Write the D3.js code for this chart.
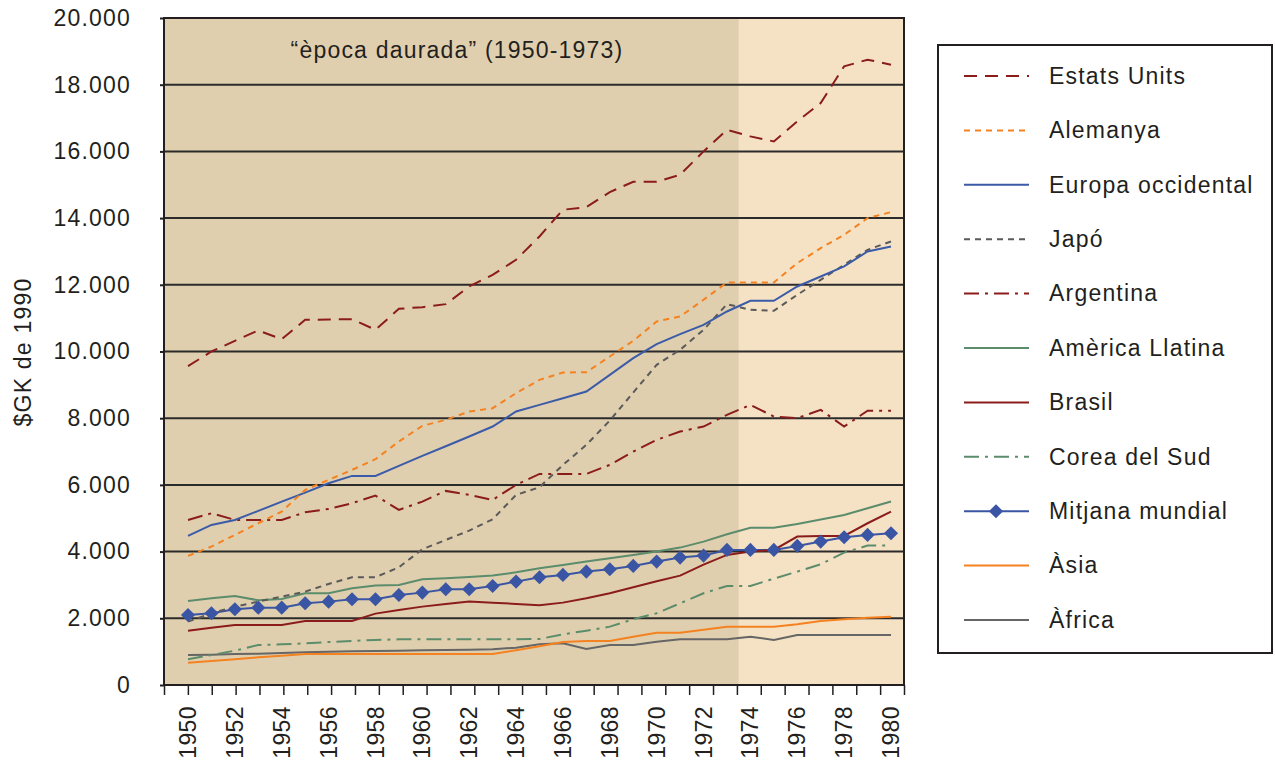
<!DOCTYPE html>
<html lang="ca">
<head>
<meta charset="utf-8">
<script src="https://d3js.org/d3.v7.min.js"></script>
<style>
body { margin: 0; background: #fff; }
svg text {
	font-family: "Liberation Sans", Arial, sans-serif;
	font-size: 23px;
	fill: #231f20;
	letter-spacing: 1.2px;
}
svg text.year { letter-spacing: 0.4px; }
</style>
</head>
<body>
<script>

// years on the category axis
const years = [1950, 1951, 1952, 1953, 1954, 1955, 1956, 1957, 1958, 1959,
               1960, 1961, 1962, 1963, 1964, 1965, 1966, 1967, 1968, 1969,
               1970, 1971, 1972, 1973, 1974, 1975, 1976, 1977, 1978, 1979, 1980];

// GDP per capita, $GK de 1990
const estatsUnits = [9560, 10000, 10320, 10630, 10370, 10950, 10960, 10970, 10650, 11280,
                     11330, 11420, 11950, 12300, 12750, 13450, 14250, 14330, 14780, 15090,
                     15090, 15300, 16000, 16650, 16450, 16300, 16900, 17450, 18550, 18750, 18600];
const alemanya = [3870, 4150, 4500, 4850, 5200, 5850, 6150, 6450, 6770, 7300,
                  7770, 7950, 8200, 8300, 8750, 9150, 9370, 9380, 9850, 10320,
                  10900, 11050, 11550, 12070, 12070, 12070, 12650, 13100, 13500, 14000, 14180];
const europaOccidental = [4470, 4800, 4950, 5220, 5500, 5770, 6050, 6270, 6270, 6570,
                          6870, 7160, 7450, 7750, 8200, 8400, 8600, 8800, 9300, 9800,
                          10220, 10520, 10800, 11200, 11520, 11520, 11950, 12250, 12550, 13000, 13150];
const japo = [1900, 2150, 2350, 2500, 2650, 2800, 3030, 3230, 3230, 3530,
              4070, 4350, 4630, 4970, 5700, 5930, 6600, 7200, 7930, 8770,
              9600, 10050, 10650, 11420, 11250, 11220, 11700, 12150, 12600, 13050, 13300];
const argentina = [4950, 5150, 4950, 4950, 4950, 5180, 5280, 5450, 5680, 5250,
                   5500, 5820, 5700, 5550, 6000, 6330, 6330, 6330, 6600, 7000,
                   7350, 7600, 7750, 8100, 8400, 8050, 8000, 8250, 7750, 8225, 8225];
const americaLlatina = [2520, 2600, 2670, 2540, 2580, 2750, 2750, 2900, 2980, 3000,
                        3170, 3200, 3240, 3280, 3380, 3500, 3600, 3700, 3800, 3900,
                        4000, 4120, 4300, 4520, 4715, 4715, 4830, 4960, 5100, 5300, 5500];
const brasil = [1630, 1720, 1800, 1800, 1800, 1920, 1920, 1920, 2140, 2250,
                2350, 2430, 2500, 2470, 2430, 2390, 2470, 2600, 2750, 2930,
                3110, 3280, 3610, 3900, 4000, 4050, 4450, 4470, 4470, 4850, 5200];
const coreaDelSud = [770, 900, 1030, 1200, 1220, 1250, 1290, 1320, 1350, 1370,
                     1370, 1370, 1370, 1370, 1370, 1380, 1520, 1630, 1750, 1970,
                     2150, 2450, 2750, 2970, 2970, 3190, 3400, 3620, 3970, 4180, 4180];
const mitjanaMundial = [2100, 2150, 2270, 2320, 2320, 2450, 2500, 2570, 2570, 2700,
                        2770, 2870, 2870, 2970, 3100, 3230, 3300, 3400, 3470, 3570,
                        3700, 3820, 3880, 4050, 4050, 4050, 4170, 4300, 4430, 4500, 4550];
const asia = [670, 720, 770, 830, 880, 930, 930, 930, 930, 930,
              930, 930, 930, 930, 1040, 1160, 1290, 1320, 1320, 1450,
              1570, 1570, 1660, 1750, 1750, 1750, 1820, 1920, 1970, 2020, 2050];
const africa = [900, 910, 930, 940, 960, 980, 1000, 1010, 1020, 1030,
                1040, 1050, 1060, 1070, 1120, 1220, 1250, 1080, 1200, 1200,
                1300, 1370, 1370, 1370, 1450, 1350, 1500, 1500, 1500, 1500, 1500];

const yTicks = [0, 2000, 4000, 6000, 8000, 10000, 12000, 14000, 16000, 18000, 20000];
const xLabels = [1950, 1952, 1954, 1956, 1958, 1960, 1962, 1964, 1966, 1968,
                 1970, 1972, 1974, 1976, 1978, 1980];

const periodTitle = "“època daurada” (1950-1973)";
const goldenAgeEnd = 1973.5;   // boundary between the two shaded zones
const yTitle = "$GK de 1990";

// series table, in legend order
const series = [
	{name: "Estats Units",      values: estatsUnits,      color: "#8b1c1c", dash: "13,8"},
	{name: "Alemanya",          values: alemanya,         color: "#f58220", dash: "6,5"},
	{name: "Europa occidental", values: europaOccidental, color: "#3b5ba9", dash: null},
	{name: "Japó",              values: japo,             color: "#5a5a5a", dash: "6,5"},
	{name: "Argentina",         values: argentina,        color: "#8b1c1c", dash: "15,6,3,6"},
	{name: "Amèrica Llatina",   values: americaLlatina,   color: "#5b8c6b", dash: null},
	{name: "Brasil",            values: brasil,           color: "#8b1c1c", dash: null},
	{name: "Corea del Sud",     values: coreaDelSud,      color: "#5b8c6b", dash: "15,6,3,6"},
	{name: "Mitjana mundial",   values: mitjanaMundial,   color: "#3a55a4", dash: null, marker: true},
	{name: "Àsia",              values: asia,             color: "#f58220", dash: null},
	{name: "Àfrica",            values: africa,           color: "#666666", dash: null}
];

const width = 1275;
const height = 762;
const plot = {left: 164, right: 904, top: 18, bottom: 685};

const svg = d3.select("body").append("svg")
	.attr("width", width)
	.attr("height", height);

// data positions (1950 .. 1980)
const x = d3.scaleLinear()
	.domain([1950, 1980])
	.range([188, 891]);

// tick marks of the category axis are spaced on the frame
const xTick = d3.scaleLinear()
	.domain([1949, 1980])
	.range([plot.left, plot.right]);

const y = d3.scaleLinear()
	.domain([0, 20000])
	.range([plot.bottom, plot.top]);

const fmt = d3.formatLocale({decimal: ",", thousands: ".", grouping: [3], currency: ["", ""]}).format(",");

// background zones
svg.append("rect")
	.attr("x", plot.left)
	.attr("y", plot.top)
	.attr("width", plot.right - plot.left)
	.attr("height", plot.bottom - plot.top)
	.attr("fill", "#f5e2c4");

svg.append("rect")
	.attr("x", plot.left)
	.attr("y", plot.top)
	.attr("width", x(goldenAgeEnd) - plot.left)
	.attr("height", plot.bottom - plot.top)
	.attr("fill", "#e0cfae");

// gridlines
svg.append("g")
	.selectAll("line")
	.data(yTicks.slice(1, -1))
	.join("line")
	.attr("x1", plot.left)
	.attr("x2", plot.right)
	.attr("y1", d => y(d))
	.attr("y2", d => y(d))
	.attr("stroke", "#2b2b2b")
	.attr("stroke-width", 2);

// y axis
const yAxis = svg.append("g")
	.attr("transform", `translate(${plot.left},0)`)
	.call(d3.axisLeft(y).tickValues(yTicks).tickSize(4).tickPadding(29).tickFormat(fmt));
yAxis.select(".domain").remove();
yAxis.selectAll(".tick line").attr("stroke", "#231f20").attr("stroke-width", 2);
yAxis.selectAll(".tick text")
	.attr("font-family", null)
	.attr("font-size", null)
	.attr("fill", "#231f20");

// x axis ticks
const xAxis = svg.append("g")
	.attr("transform", `translate(0,${plot.bottom})`)
	.call(d3.axisBottom(xTick).tickValues(d3.range(1949, 1981)).tickSize(10).tickFormat(""));
xAxis.select(".domain").remove();
xAxis.selectAll(".tick line").attr("stroke", "#231f20").attr("stroke-width", 1.5);

// x labels, rotated
svg.append("g")
	.selectAll("text")
	.data(xLabels)
	.join("text")
	.attr("class", "year")
	.attr("transform", d => `translate(${x(d)},706) rotate(-90)`)
	.attr("text-anchor", "end")
	.attr("dy", "0.35em")
	.text(d => d);

// y title
svg.append("text")
	.attr("transform", "translate(23,352) rotate(-90)")
	.attr("text-anchor", "middle")
	.attr("dy", "0.35em")
	.text(yTitle);

// period title
svg.append("text")
	.attr("x", 457)
	.attr("y", 58)
	.attr("text-anchor", "middle")
	.text(periodTitle);

// lines
const line = d3.line()
	.x((d, i) => x(years[i]))
	.y(d => y(d));

const drawOrder = series.slice().reverse();
const lines = svg.append("g").attr("fill", "none");
drawOrder.forEach(s => {
	lines.append("path")
		.attr("d", line(s.values))
		.attr("stroke", s.color)
		.attr("stroke-width", 2)
		.attr("stroke-dasharray", s.dash);
});

const diamond = d3.symbol(d3.symbolSquare, 100);
const world = series.find(s => s.marker);
svg.append("g")
	.selectAll("path")
	.data(world.values)
	.join("path")
	.attr("d", diamond)
	.attr("transform", (d, i) => `translate(${x(years[i])},${y(d)}) rotate(45)`)
	.attr("fill", world.color);

// frame
svg.append("rect")
	.attr("x", plot.left)
	.attr("y", plot.top)
	.attr("width", plot.right - plot.left)
	.attr("height", plot.bottom - plot.top)
	.attr("fill", "none")
	.attr("stroke", "#231f20")
	.attr("stroke-width", 2);

// legend
const legend = svg.append("g").attr("transform", "translate(938,45)");
legend.append("rect")
	.attr("width", 334)
	.attr("height", 608)
	.attr("fill", "#fff")
	.attr("stroke", "#231f20")
	.attr("stroke-width", 2);

const rowY = d3.scalePoint()
	.domain(series.map(s => s.name))
	.range([31, 575]);

const rows = legend.selectAll("g.row")
	.data(series)
	.join("g")
	.attr("class", "row")
	.attr("transform", d => `translate(0,${rowY(d.name)})`);

rows.append("line")
	.attr("x1", 26)
	.attr("x2", 91)
	.attr("stroke", d => d.color)
	.attr("stroke-width", 2)
	.attr("stroke-dasharray", d => d.dash);

rows.filter(d => d.marker)
	.append("path")
	.attr("d", diamond)
	.attr("transform", "translate(58,0) rotate(45)")
	.attr("fill", d => d.color);

rows.append("text")
	.attr("x", 111)
	.attr("dy", "0.34em")
	.text(d => d.name);

</script>
</body>
</html>
